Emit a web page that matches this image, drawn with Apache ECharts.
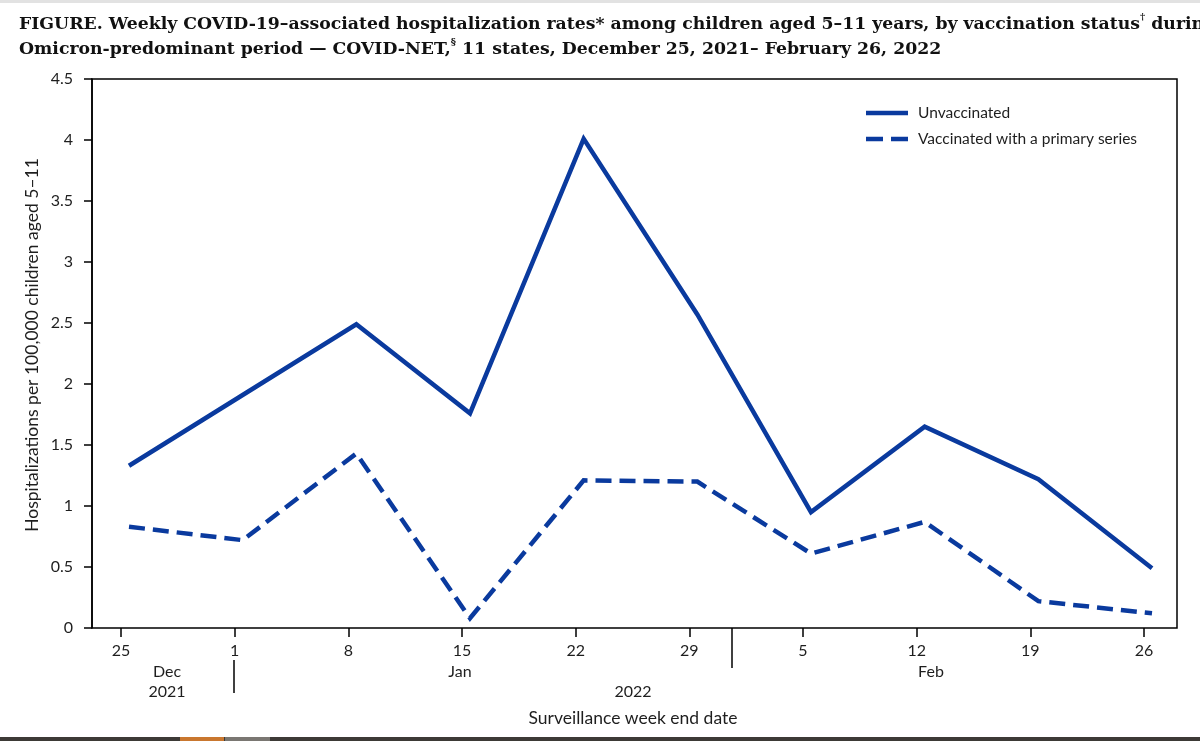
<!DOCTYPE html>
<html><head><meta charset="utf-8">
<script src="https://cdn.jsdelivr.net/npm/echarts@6/dist/echarts.min.js"></script>
<style>html,body{margin:0;padding:0;background:#fff}#c{width:1200px;height:741px}</style>
</head><body><div id="c"></div>
<script>
const weekDays = ['25','1','8','15','22','29','5','12','19','26'];
const unvaccinated = [1.33,1.91,2.49,1.76,4.01,2.57,0.95,1.65,1.22,0.49];
const vaccinated = [0.83,0.72,1.43,0.08,1.21,1.20,0.61,0.87,0.22,0.12];
const seriesNames = ['Unvaccinated','Vaccinated with a primary series'];
const monthLabels = ['Dec','Jan','Feb'];
const yearLabels = ['2021','2022'];
const yAxisTitle = 'Hospitalizations per 100,000 children aged 5–11';
const xAxisTitle = 'Surveillance week end date';

const BLUE = '#0a3a9e';
const TXT = '#1e1e1e';
const FONT = 'Lato';
const chart = echarts.init(document.getElementById('c'), null, {renderer:'canvas'});

const option = {
  backgroundColor: '#fff',
  animation: false,
  title: {
    left: 14, top: 7,
    text: '{b|FIGURE. Weekly COVID-19–associated hospitalization rates* among children aged 5–11 years, by vaccination status}{sup|†}{b| during the}\n{b|Omicron-predominant period — COVID-NET,}{sup|§}{b| 11 states, December 25, 2021– February 26, 2022}',
    textStyle: {
      rich: {
        b: {fontFamily: 'DejaVu Serif', fontWeight: 'bold', fontSize: 17.3, color: '#111', lineHeight: 25},
        sup: {fontFamily: 'DejaVu Serif', fontWeight: 'bold', fontSize: 10, color: '#111', verticalAlign: 'top', lineHeight: 25, padding:[0,0,8,0]}
      }
    }
  },
  legend: {
    orient: 'vertical', left: 861, top: 99,
    itemWidth: 42, itemHeight: 4.5, itemGap: 8,
    symbolKeepAspect: false,
    textStyle: {fontFamily: FONT, fontSize: 15.5, color: TXT, padding:[0,0,0,5], lineHeight: 18},
    data: [
      {name: seriesNames[0], icon: 'path://M0,0H42V4.5H0Z', itemStyle: {color: BLUE}},
      {name: seriesNames[1], icon: 'path://M0,0H17V4.5H0Z M25,0H42V4.5H25Z', itemStyle: {color: BLUE}}
    ]
  },
  grid: [
    {left: 92, right: 23, top: 79, bottom: 113, show: true, borderColor: '#000', borderWidth: 1.5, backgroundColor: 'transparent'},
    {left: 121, right: 56, top: 79, bottom: 113},
    {left: 129, right: 48, top: 79, bottom: 113}
  ],
  xAxis: [
    {gridIndex: 0, type: 'value', min: 0, max: 1, show: false},
    {gridIndex: 1, type: 'category', data: weekDays, boundaryGap: false,
     axisLine: {show: false},
     axisTick: {show: true, inside: false, length: 9, lineStyle: {color: '#000', width: 1.5}, alignWithLabel: true},
     axisLabel: {fontFamily: FONT, fontSize: 16, color: TXT, margin: 15},
     splitLine: {show: false}},
    {gridIndex: 2, type: 'category', data: weekDays, boundaryGap: false, show: false}
  ],
  yAxis: [
    {gridIndex: 0, type: 'value', min: 0, max: 4.5, interval: 0.5,
     axisLine: {show: true, lineStyle: {color: '#000', width: 1.5}},
     axisTick: {show: true, inside: false, length: 8, lineStyle: {color: '#000', width: 1.5}},
     axisLabel: {fontFamily: FONT, fontSize: 16, color: TXT, margin: 19},
     splitLine: {show: false}},
    {gridIndex: 1, type: 'value', min: 0, max: 4.5, show: false},
    {gridIndex: 2, type: 'value', min: 0, max: 4.5, show: false}
  ],
  series: [
    {name: seriesNames[0], type: 'line', xAxisIndex: 2, yAxisIndex: 2, data: unvaccinated,
     symbol: 'none', color: BLUE,
     lineStyle: {width: 4.5, color: BLUE, type: 'solid', join: 'miter', cap: 'butt'}},
    {name: seriesNames[1], type: 'line', xAxisIndex: 2, yAxisIndex: 2, data: vaccinated,
     symbol: 'none', color: BLUE,
     lineStyle: {width: 4.5, color: BLUE, type: [16, 8], join: 'miter', cap: 'butt'}}
  ],
  graphic: [
    {type: 'rect', shape: {x: 0, y: 0, width: 1200, height: 3}, style: {fill: '#e2e2e2'}, silent: true},
    {type: 'rect', shape: {x: 0, y: 737, width: 1200, height: 4}, style: {fill: '#3d3a36'}, silent: true},
    {type: 'rect', shape: {x: 180, y: 737, width: 44, height: 4}, style: {fill: '#c9772f'}, silent: true},
    {type: 'rect', shape: {x: 225, y: 737, width: 45, height: 4}, style: {fill: '#7a7772'}, silent: true},
    {type: 'text', x: 32, y: 345, rotation: Math.PI / 2, style: {text: yAxisTitle, fontFamily: FONT, fontSize: 17.5, fill: TXT, align: 'center', verticalAlign: 'middle'}},
    {type: 'text', x: 167, y: 672, style: {text: monthLabels[0], fontFamily: FONT, fontSize: 16, fill: TXT, align: 'center', verticalAlign: 'middle'}},
    {type: 'text', x: 167, y: 692, style: {text: yearLabels[0], fontFamily: FONT, fontSize: 16, fill: TXT, align: 'center', verticalAlign: 'middle'}},
    {type: 'text', x: 460, y: 672, style: {text: monthLabels[1], fontFamily: FONT, fontSize: 16, fill: TXT, align: 'center', verticalAlign: 'middle'}},
    {type: 'text', x: 931, y: 672, style: {text: monthLabels[2], fontFamily: FONT, fontSize: 16, fill: TXT, align: 'center', verticalAlign: 'middle'}},
    {type: 'text', x: 633, y: 692, style: {text: yearLabels[1], fontFamily: FONT, fontSize: 16, fill: TXT, align: 'center', verticalAlign: 'middle'}},
    {type: 'text', x: 633, y: 718, style: {text: xAxisTitle, fontFamily: FONT, fontSize: 17.5, fill: TXT, align: 'center', verticalAlign: 'middle'}},
    {type: 'line', shape: {x1: 234, y1: 660, x2: 234, y2: 693}, style: {stroke: '#000', lineWidth: 1.5}},
    {type: 'line', shape: {x1: 732, y1: 628, x2: 732, y2: 668}, style: {stroke: '#000', lineWidth: 1.5}}
  ]
};
chart.setOption(option);
</script></body></html>
